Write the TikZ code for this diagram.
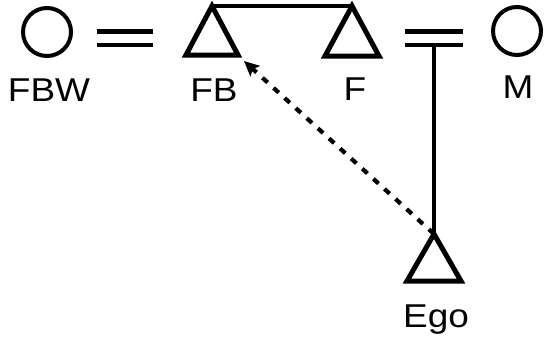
\documentclass[tikz,border=0pt]{standalone}
\usepackage{fontspec}
\setmainfont{Liberation Sans}
\usetikzlibrary{arrows.meta}
\begin{document}
\begin{tikzpicture}[x=1pt,y=-1pt,
  ring/.style={circle,draw,line width=4pt,minimum size=48pt,inner sep=0pt},
  tri/.style={line width=5pt,line join=miter},
  bar/.style={line width=4.8pt},
  lbl/.style={anchor=base,inner sep=0pt,xscale=1.12,font=\fontsize{33}{33}\selectfont},
  arr/.style={line width=4.2pt,dash pattern=on 7pt off 8pt,-{Stealth[length=15pt,width=14pt,inset=3pt]}}]
\useasboundingbox (0,0) rectangle (545,341);
% persons
\node[ring] (FBW) at (47,32) {};
\node[ring] (M) at (517,31) {};
\coordinate (FB) at (212,6);
\coordinate (F) at (352,6);
\coordinate (Ego) at (434,234);
\draw[tri] (FB) -- ++(26,49) -- ++(-52,0) -- cycle;
\draw[tri] (F) -- ++(27,50) -- ++(-54,0) -- cycle;
\draw[tri] (Ego) -- ++(27,47) -- ++(-54,0) -- cycle;
% labels
\node[lbl] (lFBW) at (49,101) {FBW};
\node[lbl] (lFB) at (214,101) {FB};
\node[lbl] (lF) at (355,100) {F};
\node[lbl] (lM) at (518,98) {M};
\node[lbl] (lEgo) at (436,327) {Ego};
% marriage signs
\coordinate (m1a) at (97,31.5); \coordinate (m1b) at (153,31.5);
\coordinate (m1c) at (97,45); \coordinate (m1d) at (153,45);
\coordinate (m2a) at (405,31.5); \coordinate (m2b) at (463,31.5);
\coordinate (m2c) at (405,45); \coordinate (m2d) at (463,45);
\draw[bar] (m1a) -- (m1b);
\draw[bar] (m1c) -- (m1d);
\draw[bar] (m2a) -- (m2b);
\draw[bar] (m2c) -- (m2d);
% sibling line
\draw[bar] (FB) -- (F);
% descent line
\coordinate (d) at (434,45);
\draw[bar] (d) -- (Ego);
% dashed arrow
\coordinate (tip) at (244,61);
\draw[arr] (Ego) -- (tip);
\end{tikzpicture}
\end{document}
